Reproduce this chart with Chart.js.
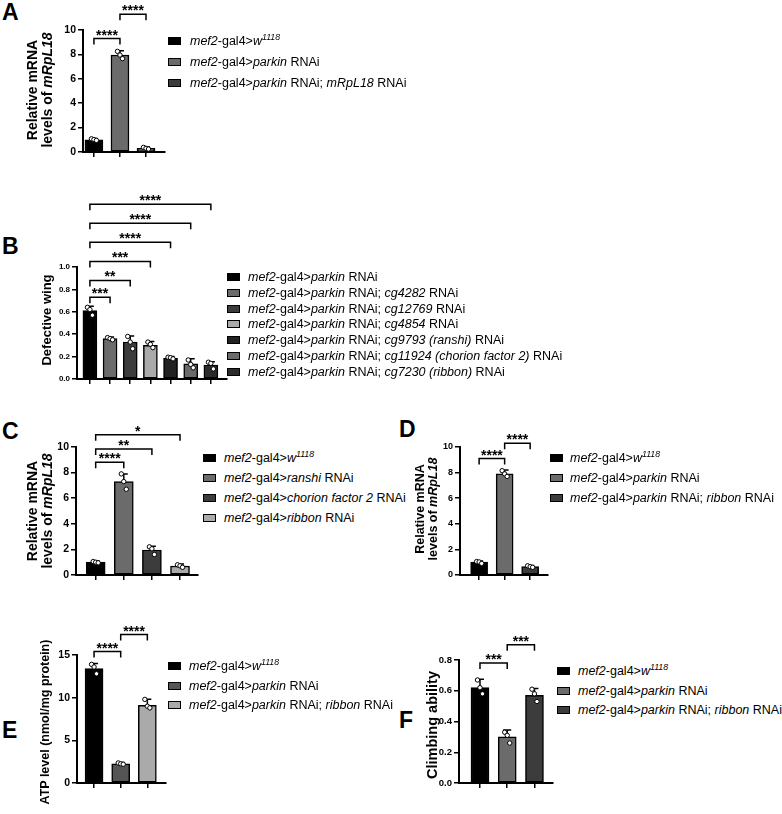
<!DOCTYPE html>
<html>
<head>
<meta charset="utf-8">
<script src="https://cdn.jsdelivr.net/npm/chart.js@4.4.1/dist/chart.umd.min.js"></script>
<style>
  body { margin: 0; background: #fff; }
  #fig { position: relative; width: 782px; height: 814px; overflow: hidden; font-family: 'Liberation Sans', Arial, sans-serif; color: #000; }
  #fig canvas { position: absolute; }
  .letter { position: absolute; font-size: 23px; font-weight: bold; line-height: 23px; }
  .ytitle { position: absolute; font-weight: bold; text-align: center; white-space: nowrap; transform: translate(-50%, -50%) rotate(-90deg); }
  .row { position: absolute; height: 20px; display: flex; align-items: center; white-space: nowrap; }
  .sw { display: inline-block; flex: none; width: 13px; height: 8px; border: 1.5px solid #000; box-sizing: border-box; }
  sup { font-size: 0.7em; line-height: 0; }
</style>
</head>
<body>
<div id="fig"></div>
<script>
// legend / group names (html so the italics survive)
const m = '<i>mef2</i>-gal4&gt;';
const pk = m + '<i>parkin</i> RNAi';
const groupsA = [m + '<i>w<sup>1118</sup></i>', pk, pk + '; <i>mRpL18</i> RNAi'];
const groupsB = [pk, pk + '; <i>cg4282</i> RNAi', pk + '; <i>cg12769</i> RNAi', pk + '; <i>cg4854</i> RNAi',
  pk + '; <i>cg9793 (ranshi)</i> RNAi', pk + '; <i>cg11924 (chorion factor 2)</i> RNAi', pk + '; <i>cg7230 (ribbon)</i> RNAi'];
const groupsC = [m + '<i>w<sup>1118</sup></i>', m + '<i>ranshi</i> RNAi', m + '<i>chorion factor 2</i> RNAi', m + '<i>ribbon</i> RNAi'];
const groupsD = [m + '<i>w<sup>1118</sup></i>', pk, pk + '; <i>ribbon</i> RNAi'];
const groupsE = groupsD;
const groupsF = groupsD;

// bar means, top of error bar, individual points
const meanA = [1.0, 7.95, 0.3];
const errA = [1.1, 8.3, 0.4];
const ptsA = [[1.08, 1.02, 0.95], [8.25, 7.95, 7.65], [0.38, 0.3, 0.24]];

const meanB = [0.61, 0.36, 0.33, 0.3, 0.185, 0.135, 0.125];
const errB = [0.65, 0.375, 0.385, 0.335, 0.2, 0.18, 0.155];
const ptsB = [[0.64, 0.62, 0.57], [0.37, 0.36, 0.35], [0.38, 0.33, 0.27], [0.33, 0.31, 0.28],
  [0.195, 0.19, 0.18], [0.17, 0.13, 0.1], [0.15, 0.14, 0.09]];

const meanC = [1.0, 7.3, 1.95, 0.7];
const errC = [1.1, 7.9, 2.25, 0.85];
const ptsC = [[1.05, 1.0, 0.95], [7.9, 7.3, 6.7], [2.2, 2.05, 1.6], [0.8, 0.72, 0.6]];

const meanD = [1.0, 7.9, 0.65];
const errD = [1.1, 8.2, 0.75];
const ptsD = [[1.05, 1.02, 0.9], [8.15, 7.9, 7.7], [0.72, 0.65, 0.6]];

const meanE = [13.4, 2.25, 9.1];
const errE = [14.0, 2.4, 9.8];
const ptsE = [[13.9, 13.6, 12.8], [2.35, 2.25, 2.2], [9.8, 9.0, 8.8]];

const meanF = [0.62, 0.3, 0.57];
const errF = [0.675, 0.345, 0.615];
const ptsF = [[0.67, 0.62, 0.58], [0.33, 0.31, 0.26], [0.61, 0.58, 0.53]];

// significance brackets: [from, to, level, label]
const sigA = [[0, 1, 9.3, '****'], [1, 2, 11.3, '****']];
const sigB = [[0, 1, 0.73, '***'], [0, 2, 0.88, '**'], [0, 3, 1.05, '***'], [0, 4, 1.22, '****'], [0, 5, 1.39, '****'], [0, 6, 1.56, '****']];
const sigC = [[0, 1, 8.8, '****'], [0, 2, 9.85, '**'], [0, 3, 10.95, '*']];
const sigD = [[0, 1, 9.1, '****'], [1, 2, 10.3, '****']];
const sigE = [[0, 1, 15.4, '****'], [1, 2, 17.4, '****']];
const sigF = [[0, 1, 0.78, '***'], [1, 2, 0.9, '***']];

// y ticks
const ticksA = [0, 2, 4, 6, 8, 10];
const ticksB = [0, 0.2, 0.4, 0.6, 0.8, 1.0];
const ticksC = ticksA;
const ticksD = ticksA;
const ticksE = [0, 5, 10, 15];
const ticksF = [0, 0.2, 0.4, 0.6, 0.8];

const fig = document.getElementById('fig');
const FONT = "'Liberation Sans', Arial, sans-serif";

const addDiv = (cls, html, style) => {
  const d = document.createElement('div');
  d.className = cls;
  d.innerHTML = html;
  Object.assign(d.style, style);
  fig.appendChild(d);
  return d;
};

const addLegend = (x, textX, rows, labels, colors, size) => {
  rows.forEach((cy, i) => {
    addDiv('row', `<span class="sw" style="background:${colors[i]};margin-right:${textX - x - 13}px"></span><span>${labels[i]}</span>`,
      { left: x + 'px', top: cy - 10 + 'px', fontSize: size + 'px' });
  });
};

// error bars, dots and brackets on top of the bars
const extrasFor = (p) => ({
  id: 'extras',
  afterDatasetsDraw(chart) {
    const { ctx, scales: { x, y } } = chart;
    ctx.save();
    ctx.strokeStyle = '#000';
    ctx.lineWidth = 1.5;
    p.err.forEach((e, i) => {
      const cx = x.getPixelForValue(i);
      const y0 = y.getPixelForValue(p.means[i]);
      const y1 = y.getPixelForValue(e);
      ctx.beginPath();
      ctx.moveTo(cx, y0);
      ctx.lineTo(cx, y1);
      ctx.moveTo(cx - 4, y1);
      ctx.lineTo(cx + 4, y1);
      ctx.stroke();
    });
    const offs = [-2.5, 0, 2.5];
    ctx.lineWidth = 1;
    p.pts.forEach((arr, i) => {
      arr.forEach((v, k) => {
        ctx.beginPath();
        ctx.arc(x.getPixelForValue(i) + offs[k], y.getPixelForValue(v), 2.2, 0, Math.PI * 2);
        ctx.fillStyle = '#fff';
        ctx.fill();
        ctx.stroke();
      });
    });
    ctx.lineWidth = 1.5;
    ctx.fillStyle = '#000';
    ctx.font = `bold 14px ${FONT}`;
    ctx.textAlign = 'center';
    ctx.textBaseline = 'alphabetic';
    p.sig.forEach(([a, b, lvl, txt]) => {
      const xa = x.getPixelForValue(a), xb = x.getPixelForValue(b), yl = y.getPixelForValue(lvl);
      ctx.beginPath();
      ctx.moveTo(xa, yl + 6);
      ctx.lineTo(xa, yl);
      ctx.lineTo(xb, yl);
      ctx.lineTo(xb, yl + 6);
      ctx.stroke();
      ctx.fillText(txt, (xa + xb) / 2, yl + 1);
    });
    ctx.restore();
  },
});

const makePanel = (p) => {
  const yW = 30, xH = 8, padT = p.padT || 50, padR = 4, padB = 4;
  const left = p.axisX - yW;
  const top = p.topPx - padT;
  const w = p.rightX - left + padR;
  const h = p.bottomPx - top + xH + padB;
  const canvas = document.createElement('canvas');
  canvas.width = w;
  canvas.height = h;
  canvas.style.left = left + 'px';
  canvas.style.top = top + 'px';
  fig.appendChild(canvas);

  const axisLine = { color: '#000', width: 2 };
  new Chart(canvas, {
    type: 'bar',
    data: {
      datasets: [{
        data: p.means.map((v, i) => ({ x: i, y: v })),
        backgroundColor: p.colors,
        borderColor: '#000',
        borderWidth: 1.5,
        borderSkipped: false,
        barThickness: p.barW,
      }],
    },
    options: {
      responsive: false,
      animation: false,
      devicePixelRatio: 1,
      layout: { padding: { top: padT, right: padR, bottom: padB, left: 0 } },
      plugins: { legend: { display: false }, tooltip: { enabled: false } },
      scales: {
        x: {
          type: 'linear',
          min: p.xMin,
          max: p.xMax,
          offset: false,
          afterBuildTicks: (s) => { s.ticks = p.means.map((v, i) => ({ value: i })); },
          afterFit: (s) => { s.height = xH; },
          ticks: { callback: () => '' },
          grid: { offset: false, drawOnChartArea: false, tickLength: 5, color: '#000', lineWidth: 1.5 },
          border: axisLine,
        },
        y: {
          min: 0,
          max: p.ticks[p.ticks.length - 1],
          afterBuildTicks: (s) => { s.ticks = p.ticks.map((v) => ({ value: v })); },
          afterFit: (s) => { s.width = yW; },
          ticks: {
            color: '#000',
            padding: 2,
            font: { family: FONT, size: p.tickSize, weight: 'bold' },
            callback: (v) => (p.dec ? v.toFixed(1) : v),
          },
          grid: { drawOnChartArea: false, tickLength: 5, color: '#000', lineWidth: 1.5 },
          border: axisLine,
        },
      },
    },
    plugins: [extrasFor(p)],
  });
};

const colA = ['#000', '#6b6b6b', '#3c3c3c'];
const colB = ['#000', '#6b6b6b', '#3c3c3c', '#aaaaaa', '#222', '#6b6b6b', '#2b2b2b'];
const colC = ['#000', '#6b6b6b', '#3c3c3c', '#aaaaaa'];
const colD = colA;
const colE = ['#000', '#555', '#aaaaaa'];
const colF = colA;

makePanel({ means: meanA, err: errA, pts: ptsA, sig: sigA, ticks: ticksA, colors: colA,
  axisX: 83, rightX: 165, topPx: 30, bottomPx: 152, xMin: -0.42, xMax: 2.73, barW: 18, tickSize: 10.5, padT: 30 });
makePanel({ means: meanB, err: errB, pts: ptsB, sig: sigB, ticks: ticksB, colors: colB, dec: true,
  axisX: 77, rightX: 227, topPx: 267, bottomPx: 379, xMin: -0.64, xMax: 6.8, barW: 14, tickSize: 8, padT: 80 });
makePanel({ means: meanC, err: errC, pts: ptsC, sig: sigC, ticks: ticksC, colors: colC,
  axisX: 76, rightX: 198, topPx: 447, bottomPx: 575, xMin: -0.7, xMax: 3.64, barW: 19, tickSize: 10.5 });
makePanel({ means: meanD, err: errD, pts: ptsD, sig: sigD, ticks: ticksD, colors: colD,
  axisX: 460, rightX: 548, topPx: 447, bottomPx: 575, xMin: -0.75, xMax: 2.7, barW: 17, tickSize: 9 });
makePanel({ means: meanE, err: errE, pts: ptsE, sig: sigE, ticks: ticksE, colors: colE,
  axisX: 77, rightX: 166, topPx: 655, bottomPx: 783, xMin: -0.64, xMax: 2.7, barW: 18, tickSize: 10.5 });
makePanel({ means: meanF, err: errF, pts: ptsF, sig: sigF, ticks: ticksF, colors: colF, dec: true,
  axisX: 459, rightX: 553, topPx: 660, bottomPx: 783, xMin: -0.77, xMax: 2.68, barW: 18, tickSize: 9.5 });

// panel letters
[['A', 2, 4], ['B', 2, 238], ['C', 2, 423], ['D', 399, 421], ['E', 2, 722], ['F', 399, 712]].forEach(([t, x, y]) => {
  addDiv('letter', t, { left: x + 'px', top: y - 3 + 'px' });
});

// y axis titles
const mrna = 'Relative mRNA<br>levels of <i>mRpL18</i>';
addDiv('ytitle', mrna, { left: '40px', top: '90px', fontSize: '14px', lineHeight: '15px' });
addDiv('ytitle', 'Defective wing', { left: '46px', top: '320px', fontSize: '13px' });
addDiv('ytitle', mrna, { left: '40px', top: '511px', fontSize: '14px', lineHeight: '15px' });
addDiv('ytitle', mrna, { left: '427px', top: '509px', fontSize: '12.5px', lineHeight: '13px' });
addDiv('ytitle', 'ATP level (nmol/mg protein)', { left: '45px', top: '722px', fontSize: '12.5px' });
addDiv('ytitle', 'Climbing ability', { left: '432px', top: '725px', fontSize: '14.5px' });

// legends
addLegend(168, 190, [41, 62, 83], groupsA, colA, 12.5);
addLegend(227, 248, [277, 293, 308.5, 324, 340, 356, 372], groupsB, colB, 12.5);
addLegend(203, 224, [458, 478, 498, 518], groupsC, colC, 12.5);
addLegend(550, 570, [458, 478, 498], groupsD, colD, 12.5);
addLegend(168, 189, [666, 686, 705], groupsE, colE, 12.5);
addLegend(557, 578, [671, 691, 710], groupsF, colF, 12.5);
</script>
</body>
</html>
